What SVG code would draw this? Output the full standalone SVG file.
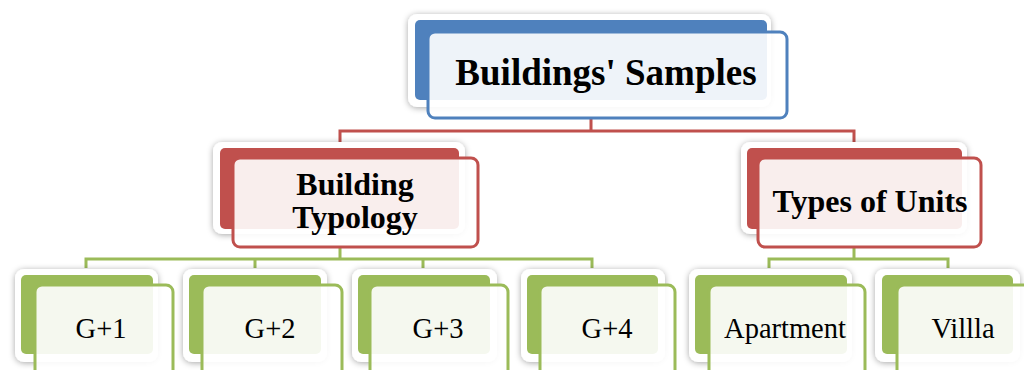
<svg xmlns="http://www.w3.org/2000/svg" width="1024" height="370" viewBox="0 0 1024 370">
  <style>
    .frame { fill: #ffffff; filter: url(#soft); }
    .front { fill: #ffffff; fill-opacity: 0.9; stroke-width: 3; }
    .blue .fill { fill: #4F81BD; }
    .blue .front { stroke: #4F81BD; }
    .red .fill { fill: #C0504D; }
    .red .front { stroke: #C0504D; }
    .green .fill { fill: #9BBB59; }
    .green .front { stroke: #9BBB59; }
    .label { font-family: "Liberation Serif", "Times New Roman", serif; fill: #000000; text-anchor: middle; }
    .lvl0 { font-size: 37px; font-weight: bold; }
    .lvl1 { font-size: 32px; font-weight: bold; }
    .lvl2 { font-size: 28.5px; }
    .link { fill: none; stroke-width: 3; }
  </style>
  <defs>
    <filter id="soft" x="-10%" y="-20%" width="120%" height="140%">
      <feDropShadow dx="0" dy="1" stdDeviation="3" flood-color="#000000" flood-opacity="0.35"/>
    </filter>
  </defs>

  <rect width="1024" height="370" fill="#ffffff"/>

  <!-- connectors -->
  <g id="connectors">
    <path class="link" stroke="#C0504D" d="M591 118V131M340 145V131H854V145"/>
    <path class="link" stroke="#9BBB59" d="M340 247V259M86 268V259H592V268M255 259V268M423 259V268"/>
    <path class="link" stroke="#9BBB59" d="M854 248V259M769 268V259H948V268"/>
  </g>

  <!-- root -->
  <g id="node-samples" class="blue">
    <rect class="frame" x="408" y="14" width="363" height="93" rx="9"/>
    <rect class="fill" x="415" y="20" width="352" height="80" rx="5"/>
    <rect class="front" x="428" y="32" width="359" height="86" rx="7"/>
    <text class="label lvl0" x="606" y="85">Buildings' Samples</text>
  </g>

  <!-- second level -->
  <g id="node-typology" class="red">
    <rect class="frame" x="213" y="142" width="252" height="92" rx="9"/>
    <rect class="fill" x="220" y="148" width="239" height="81" rx="5"/>
    <rect class="front" x="233" y="158" width="245" height="89" rx="7"/>
    <text class="label lvl1" x="355" y="195">Building</text>
    <text class="label lvl1" x="355" y="228">Typology</text>
  </g>

  <g id="node-units" class="red">
    <rect class="frame" x="741" y="142" width="226" height="92" rx="9"/>
    <rect class="fill" x="747" y="148" width="215" height="81" rx="5"/>
    <rect class="front" x="758" y="158" width="223" height="89" rx="7"/>
    <text class="label lvl1" x="870" y="212">Types of Units</text>
  </g>

  <!-- third level -->
  <g id="node-g1" class="green">
    <rect class="frame" x="15" y="269" width="143" height="93" rx="9"/>
    <rect class="fill" x="21" y="275" width="132" height="79" rx="5"/>
    <rect class="front" x="35" y="285" width="138" height="92" rx="7"/>
    <text class="label lvl2" x="101" y="338">G+1</text>
  </g>

  <g id="node-g2" class="green">
    <rect class="frame" x="183" y="269" width="144" height="93" rx="9"/>
    <rect class="fill" x="189" y="275" width="132" height="79" rx="5"/>
    <rect class="front" x="202" y="285" width="140" height="92" rx="7"/>
    <text class="label lvl2" x="270" y="338">G+2</text>
  </g>

  <g id="node-g3" class="green">
    <rect class="frame" x="352" y="269" width="145" height="93" rx="9"/>
    <rect class="fill" x="358" y="275" width="132" height="79" rx="5"/>
    <rect class="front" x="370" y="285" width="138" height="92" rx="7"/>
    <text class="label lvl2" x="438" y="338">G+3</text>
  </g>

  <g id="node-g4" class="green">
    <rect class="frame" x="521" y="269" width="144" height="93" rx="9"/>
    <rect class="fill" x="527" y="275" width="131" height="79" rx="5"/>
    <rect class="front" x="540" y="285" width="135" height="92" rx="7"/>
    <text class="label lvl2" x="607" y="338">G+4</text>
  </g>

  <g id="node-apartment" class="green">
    <rect class="frame" x="689" y="269" width="163" height="93" rx="9"/>
    <rect class="fill" x="695" y="275" width="152" height="79" rx="5"/>
    <rect class="front" x="709" y="285" width="156" height="92" rx="7"/>
    <text class="label lvl2" x="785" y="338">Apartment</text>
  </g>

  <g id="node-villa" class="green">
    <rect class="frame" x="875" y="269" width="145" height="93" rx="9"/>
    <rect class="fill" x="882" y="275" width="131" height="79" rx="5"/>
    <rect class="front" x="897" y="285" width="140" height="92" rx="7"/>
    <text class="label lvl2" x="963" y="338">Villla</text>
  </g>
</svg>
